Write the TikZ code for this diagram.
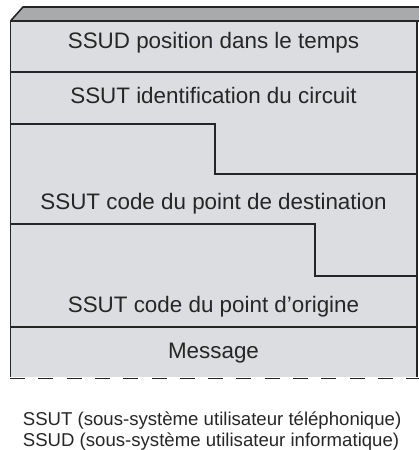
\documentclass[tikz,border=0pt]{standalone}
\usepackage{fontspec}
\setmainfont{Liberation Sans}
\definecolor{facefill}{HTML}{DCDDE0}
\definecolor{topfill}{HTML}{A9AAAC}
\definecolor{edge}{HTML}{252525}
\begin{document}
\begin{tikzpicture}[x=1pt,y=-1pt,
  outer/.style={draw=edge,line width=1.6pt},
  inner/.style={draw=edge,line width=1.2pt},
  cell/.style={font=\fontsize{22.4}{27}\selectfont,text=black!85,inner sep=0pt,anchor=base},
  legend/.style={font=\fontsize{18.6}{22}\selectfont,text=black!85,inner sep=0pt,anchor=base west}]
\useasboundingbox (0,0) rectangle (419,450);
\clip (0,0) rectangle (419,450);
% top face
\fill[topfill] (10.5,21) -- (23,7) -- (430,7) -- (430,21) -- cycle;
\draw[outer] (10.5,21) -- (23,7) -- (430,7);
% front face
\fill[facefill] (10.5,21) rectangle (417,377);
\draw[outer] (10.5,377) -- (10.5,21) -- (430,21);
\draw[outer] (417,21) -- (417,377);
% dividers
\draw[inner] (10.5,72) -- (417,72);
\draw[inner] (10.5,124) -- (215,124) -- (215,174) -- (417,174);
\draw[inner] (10.5,224) -- (315,224) -- (315,276) -- (417,276);
\draw[inner] (10.5,327) -- (417,327);
% dashed bottom
\draw[draw=edge,line width=1.4pt,dash pattern=on 15pt off 13.3pt] (10,378.5) -- (419,378.5);
% texts
\node[cell] (t1) at (213.5,48.3) {SSUD position dans le temps};
\node[cell] (t2) at (213.5,103.3) {SSUT identification du circuit};
\node[cell] (t3) at (213.5,209) {SSUT code du point de destination};
\node[cell] (t4) at (213.5,312) {SSUT code du point d’origine};
\node[cell] (t5) at (213.5,358.3) {Message};
\node[legend] (l1) at (22.7,425) {SSUT (sous-système utilisateur téléphonique)};
\node[legend] (l2) at (22.7,446.5) {SSUD (sous-système utilisateur informatique)};
\end{tikzpicture}
\end{document}
